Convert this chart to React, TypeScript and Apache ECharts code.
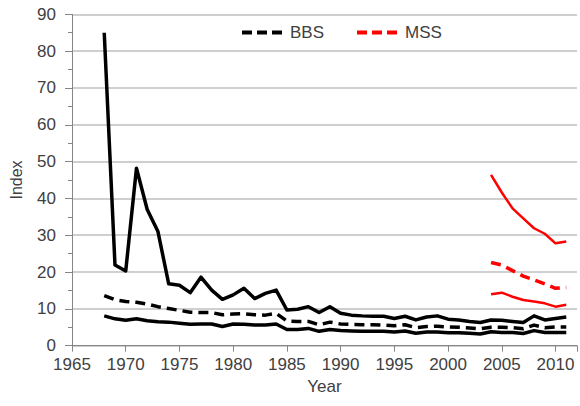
import React, { useEffect, useRef } from "react";
import * as echarts from "echarts";

const bbsYears = [
  1968, 1969, 1970, 1971, 1972, 1973, 1974, 1975, 1976, 1977, 1978, 1979, 1980,
  1981, 1982, 1983, 1984, 1985, 1986, 1987, 1988, 1989, 1990, 1991, 1992, 1993,
  1994, 1995, 1996, 1997, 1998, 1999, 2000, 2001, 2002, 2003, 2004, 2005, 2006,
  2007, 2008, 2009, 2010, 2011,
];
const bbsUpper = [
  85.0, 21.9, 20.3, 48.2, 37.0, 31.0, 16.8, 16.4, 14.4, 18.6, 15.1, 12.6, 13.8,
  15.6, 12.8, 14.2, 15.1, 9.7, 9.9, 10.6, 9.0, 10.6, 8.8, 8.3, 8.1, 8.0, 8.0,
  7.4, 8.0, 7.0, 7.8, 8.1, 7.2, 7.0, 6.6, 6.3, 7.0, 6.9, 6.6, 6.3, 8.1, 7.0, 7.4,
  7.8,
];
const bbsMean = [
  13.6, 12.5, 12.0, 11.8, 11.3, 10.6, 10.1, 9.6, 9.1, 9.0, 9.0, 8.4, 8.6, 8.7,
  8.4, 8.3, 8.8, 6.7, 6.6, 6.6, 5.7, 6.4, 5.9, 5.8, 5.7, 5.7, 5.6, 5.4, 5.7, 4.9,
  5.2, 5.3, 5.1, 5.0, 4.8, 4.6, 5.0, 5.0, 4.9, 4.6, 5.6, 4.9, 5.1, 5.1,
];
const bbsLower = [
  8.1, 7.3, 6.9, 7.3, 6.8, 6.5, 6.4, 6.1, 5.8, 5.9, 5.9, 5.2, 5.9, 5.8, 5.6, 5.6,
  5.9, 4.4, 4.4, 4.7, 3.9, 4.4, 4.1, 4.0, 3.9, 3.9, 3.9, 3.7, 4.0, 3.4, 3.7, 3.7,
  3.5, 3.5, 3.4, 3.2, 3.8, 3.6, 3.6, 3.3, 4.1, 3.6, 3.6, 3.6,
];

const mssYears = [2004, 2005, 2006, 2007, 2008, 2009, 2010, 2011];
const mssUpper = [46.4, 41.6, 37.3, 34.6, 31.9, 30.4, 27.8, 28.3];
const mssMean = [22.6, 21.9, 20.4, 18.9, 17.9, 16.8, 15.6, 15.8];
const mssLower = [14.0, 14.4, 13.3, 12.4, 12.0, 11.5, 10.6, 11.1];

const pair = (xs: number[], ys: number[]) => xs.map((x, i) => [x, ys[i]]);

const FONT = "'Liberation Sans', Arial, sans-serif";
const TEXT = "#404040";
const AXIS = "#868686";
const DASH_ICON = "path://M0,0h10v4h-10z M15,0h10v4h-10z M30,0h10v4h-10z";

export default function App() {
  const ref = useRef<HTMLDivElement>(null);
  useEffect(() => {
    document.body.style.margin = "0";
    const chart = echarts.init(ref.current!, null, { renderer: "svg" });
    const line = (
      name: string,
      xs: number[],
      ys: number[],
      color: string,
      width: number,
      dashed: boolean
    ) => ({
      name,
      type: "line",
      data: pair(xs, ys),
      symbol: "none",
      showSymbol: false,
      lineStyle: { color, width, type: dashed ? [10, 6] : "solid", cap: "butt", join: "round" },
      itemStyle: { color },
    });
    chart.setOption({
      animation: false,
      grid: { left: 68.5, right: 0, top: 14.3, bottom: 60.3, containLabel: false },
      legend: {
        data: [
          { name: "BBS", icon: DASH_ICON },
          { name: "MSS", icon: DASH_ICON },
        ],
        left: 242,
        top: 24,
        padding: 0,
        itemWidth: 40,
        itemHeight: 4,
        itemGap: 33,
        textStyle: { fontFamily: FONT, fontSize: 17, color: TEXT, padding: [0, 0, 0, 3] },
      },
      xAxis: {
        type: "value",
        min: 1965,
        max: 2012,
        interval: 5,
        name: "Year",
        nameLocation: "middle",
        nameGap: 32,
        nameTextStyle: { fontFamily: FONT, fontSize: 17, color: TEXT },
        axisLine: { lineStyle: { color: AXIS, width: 1 } },
        axisTick: { show: true, length: 6, lineStyle: { color: AXIS } },
        axisLabel: {
          fontFamily: FONT,
          fontSize: 17,
          color: TEXT,
          margin: 10,
          formatter: (v: number) => (v <= 2010 ? String(v) : ""),
        },
        splitLine: { show: false },
      },
      yAxis: {
        type: "value",
        min: 0,
        max: 90,
        interval: 10,
        name: "Index",
        nameLocation: "middle",
        nameGap: 48,
        nameTextStyle: { fontFamily: FONT, fontSize: 16, color: TEXT },
        axisLine: { show: true, lineStyle: { color: AXIS, width: 1 } },
        axisTick: { show: true, length: 7, lineStyle: { color: AXIS } },
        minorTick: { show: true, splitNumber: 2, length: 4, lineStyle: { color: AXIS } },
        axisLabel: { fontFamily: FONT, fontSize: 17, color: TEXT, margin: 16 },
        splitLine: { show: true, lineStyle: { color: "#bfbfbf", width: 1.5 } },
      },
      series: [
        line("BBS upper", bbsYears, bbsUpper, "#000000", 3.5, false),
        line("BBS lower", bbsYears, bbsLower, "#000000", 3.5, false),
        line("BBS", bbsYears, bbsMean, "#000000", 3.5, true),
        line("MSS upper", mssYears, mssUpper, "#ff0000", 2.5, false),
        line("MSS lower", mssYears, mssLower, "#ff0000", 2.5, false),
        line("MSS", mssYears, mssMean, "#ff0000", 3.5, true),
      ],
    });
    return () => chart.dispose();
  }, []);
  return <div ref={ref} style={{ width: 580, height: 406 }} />;
}
